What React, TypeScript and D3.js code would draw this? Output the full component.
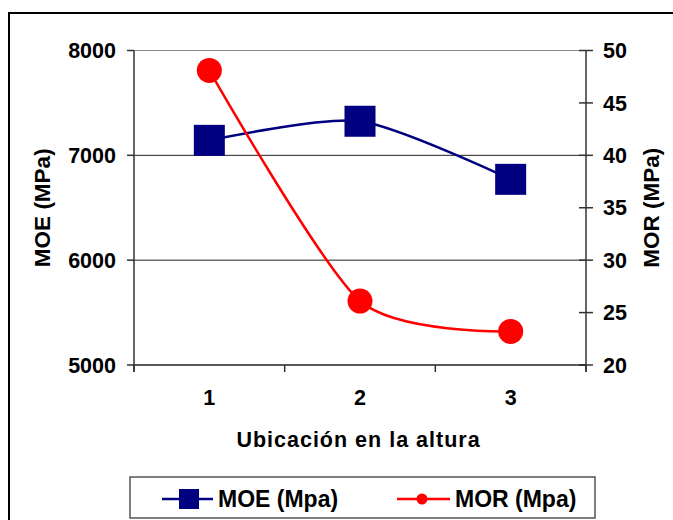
import React from "react";
import * as d3 from "d3";

const categories = ["1", "2", "3"];
const moeValues = [7143, 7325, 6771];
const morValues = [48.1, 26.1, 23.2];
const leftTicks = [5000, 6000, 7000, 8000];
const rightTicks = [20, 25, 30, 35, 40, 45, 50];
const xTitle = "Ubicación en la altura";
const leftTitle = "MOE (MPa)";
const rightTitle = "MOR (MPa)";
const legendLabels = ["MOE (Mpa)", "MOR (Mpa)"];

const W = 673;
const H = 520;
const L = 134, R = 586, T = 50.5, B = 365;
const FONT = "'Liberation Sans', Arial, Helvetica, sans-serif";
const NAVY = "#000080";
const RED = "#FF0000";

export default function App() {
  const x = d3.scaleBand<string>().domain(categories).range([L, R]).padding(0);
  const cx = (c: string) => (x(c) as number) + x.bandwidth() / 2;
  const yL = d3.scaleLinear().domain([5000, 8000]).range([B, T]);
  const yR = d3.scaleLinear().domain([20, 50]).range([B, T]);

  const line = d3.line<[number, number]>().x((d) => d[0]).y((d) => d[1]).curve(d3.curveCardinal.tension(0.25));
  const moePts: [number, number][] = categories.map((c, i) => [cx(c), yL(moeValues[i])]);
  const morPts: [number, number][] = categories.map((c, i) => [cx(c), yR(morValues[i])]);

  const bounds = [L, ...categories.map((c) => (x(c) as number) + x.bandwidth())];
  const sq = 31;
  const fs = 21.5;

  return (
    <svg width={W} height={H} style={{ position: "absolute", left: 0, top: 0 }} fontFamily={FONT} fontWeight="bold">
      <rect x={0} y={0} width={W} height={H} fill="#fff" />
      <rect x={9} y={13} width={700} height={600} fill="none" stroke="#000" strokeWidth={2} />
      {/* gridlines */}
      {leftTicks.filter((t) => t !== 5000).map((t) => (
        <line key={t} x1={L} x2={R} y1={yL(t)} y2={yL(t)} stroke={t === 8000 ? "#888" : "#222"} strokeWidth={1} />
      ))}
      {/* left axis */}
      <line x1={L} x2={L} y1={T} y2={B + 7} stroke="#333" strokeWidth={1.5} />
      {leftTicks.map((t) => (
        <g key={t}>
          <line x1={L - 7} x2={L} y1={yL(t)} y2={yL(t)} stroke="#333" strokeWidth={1.5} />
          <text x={116} y={yL(t)} dy="0.36em" textAnchor="end" fontSize={fs} fill="#000">{t}</text>
        </g>
      ))}
      {/* right axis */}
      <line x1={R} x2={R} y1={T} y2={B + 7} stroke="#333" strokeWidth={1.5} />
      {rightTicks.map((t) => (
        <g key={t}>
          <line x1={R - 7} x2={R + 7} y1={yR(t)} y2={yR(t)} stroke="#333" strokeWidth={1.5} />
          <text x={603} y={yR(t)} dy="0.36em" textAnchor="start" fontSize={fs} fill="#000">{t}</text>
        </g>
      ))}
      {/* bottom axis */}
      <line x1={L} x2={R} y1={B} y2={B} stroke="#222" strokeWidth={1.5} />
      {bounds.map((b, i) => (
        <line key={i} x1={b} x2={b} y1={B} y2={B + 7} stroke="#333" strokeWidth={1.5} />
      ))}
      {categories.map((c) => (
        <text key={c} x={cx(c)} y={397.5} dy="0.36em" textAnchor="middle" fontSize={fs} fill="#000">{c}</text>
      ))}
      {/* titles */}
      <text x={358.5} y={439} dy="0.36em" textAnchor="middle" fontSize={21.5} letterSpacing={1} fill="#000">{xTitle}</text>
      <text transform={`translate(42,${(T + B) / 2}) rotate(-90)`} dy="0.36em" textAnchor="middle" fontSize={22.5} fill="#000">{leftTitle}</text>
      <text transform={`translate(651,${(T + B) / 2}) rotate(-90)`} dy="0.36em" textAnchor="middle" fontSize={22.5} fill="#000">{rightTitle}</text>
      {/* series */}
      <path d={line(moePts) || ""} fill="none" stroke={NAVY} strokeWidth={2.5} />
      {moePts.map((p, i) => (
        <rect key={i} x={p[0] - sq / 2} y={p[1] - sq / 2} width={sq} height={sq} fill={NAVY} />
      ))}
      <path d={line(morPts) || ""} fill="none" stroke={RED} strokeWidth={2.5} />
      {morPts.map((p, i) => (
        <circle key={i} cx={p[0]} cy={p[1]} r={12.5} fill={RED} />
      ))}
      {/* legend */}
      <rect x={130} y={477} width={465} height={41} fill="#fff" stroke="#555" strokeWidth={1.5} />
      <line x1={162} x2={213} y1={499} y2={499} stroke={NAVY} strokeWidth={2.5} />
      <rect x={179} y={489} width={20} height={20} fill={NAVY} />
      <text x={218} y={499} dy="0.36em" fontSize={23} fill="#000">{legendLabels[0]}</text>
      <line x1={397} x2={450} y1={499} y2={499} stroke={RED} strokeWidth={2.5} />
      <circle cx={422} cy={499} r={5.5} fill={RED} />
      <text x={455} y={499} dy="0.36em" fontSize={23} fill="#000">{legendLabels[1]}</text>
    </svg>
  );
}
